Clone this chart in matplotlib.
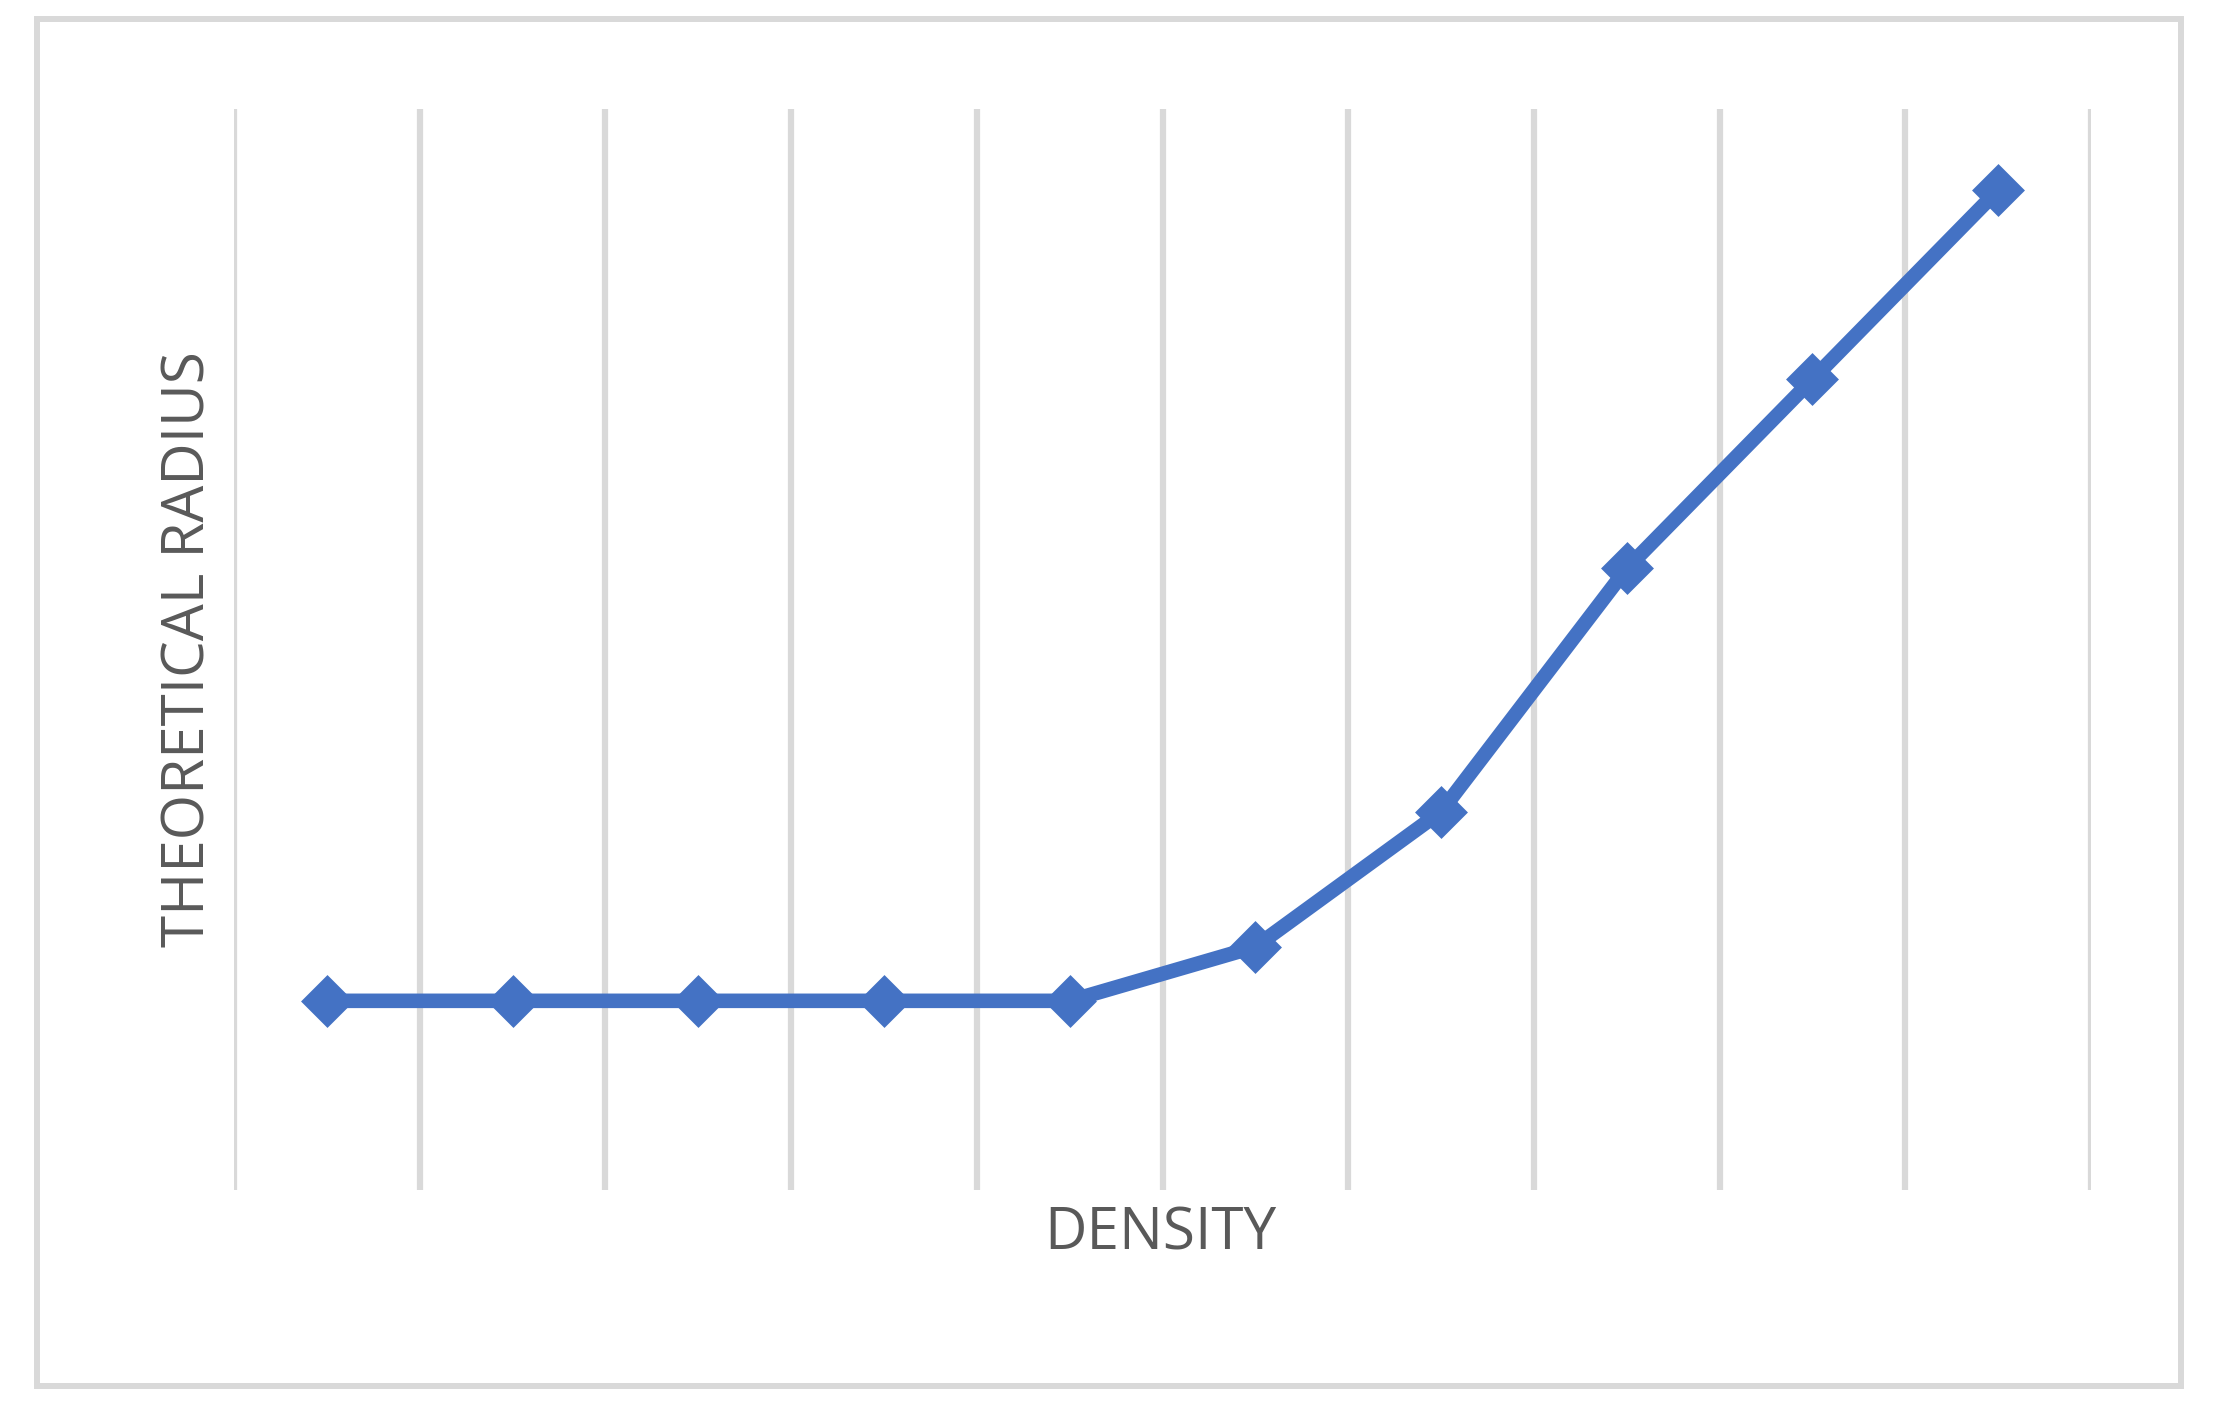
import matplotlib.pyplot as plt
from matplotlib.patches import Rectangle

# values (y axis 0..8, no tick labels shown)
categories = list(range(1, 11))
radius = [1.4, 1.4, 1.4, 1.4, 1.4, 1.8, 2.8, 4.6, 6.0, 7.4]

W, H = 2217, 1419
fig = plt.figure(figsize=(W / 100, H / 100), dpi=100)

# plot area in pixels: x 234..2091, y 109..1190
ax = fig.add_axes([234 / W, 1 - 1190 / H, (2091 - 234) / W, (1190 - 109) / H])

x = list(range(len(categories)))
ax.plot(x, radius, color='#4472C4', linewidth=10.5, marker='D', markersize=24,
        markeredgewidth=2.5, markeredgecolor='#4472C4', solid_joinstyle='round',
        zorder=3)

ax.set_xlim(-0.5, len(categories) - 0.5)
ax.set_ylim(0, 8)
ax.set_xticks([i - 0.5 for i in range(len(categories) + 1)])
ax.set_yticks([])
ax.grid(axis='x', color='#d9d9d9', linewidth=4.5)
ax.tick_params(axis='x', length=0, labelbottom=False)
for s in ax.spines.values():
    s.set_visible(False)

font = 'Open Sans'
fig.text(1160 / W, 1 - 1250 / H, 'DENSITY', ha='center', va='baseline',
         fontsize=42, color='#595959', family=font)
fig.text(205 / W, 1 - 649 / H, 'THEORETICAL RADIUS', ha='center', va='baseline',
         rotation=90, rotation_mode='anchor', fontsize=42, color='#595959',
         family=font)

# outer chart border
fig.patches.append(Rectangle((37 / W, 1 - 1386 / H), (2181 - 37) / W, (1386 - 19) / H,
                             transform=fig.transFigure, fill=False,
                             edgecolor='#d9d9d9', linewidth=4.3))

fig.savefig('out.png', dpi=100)
